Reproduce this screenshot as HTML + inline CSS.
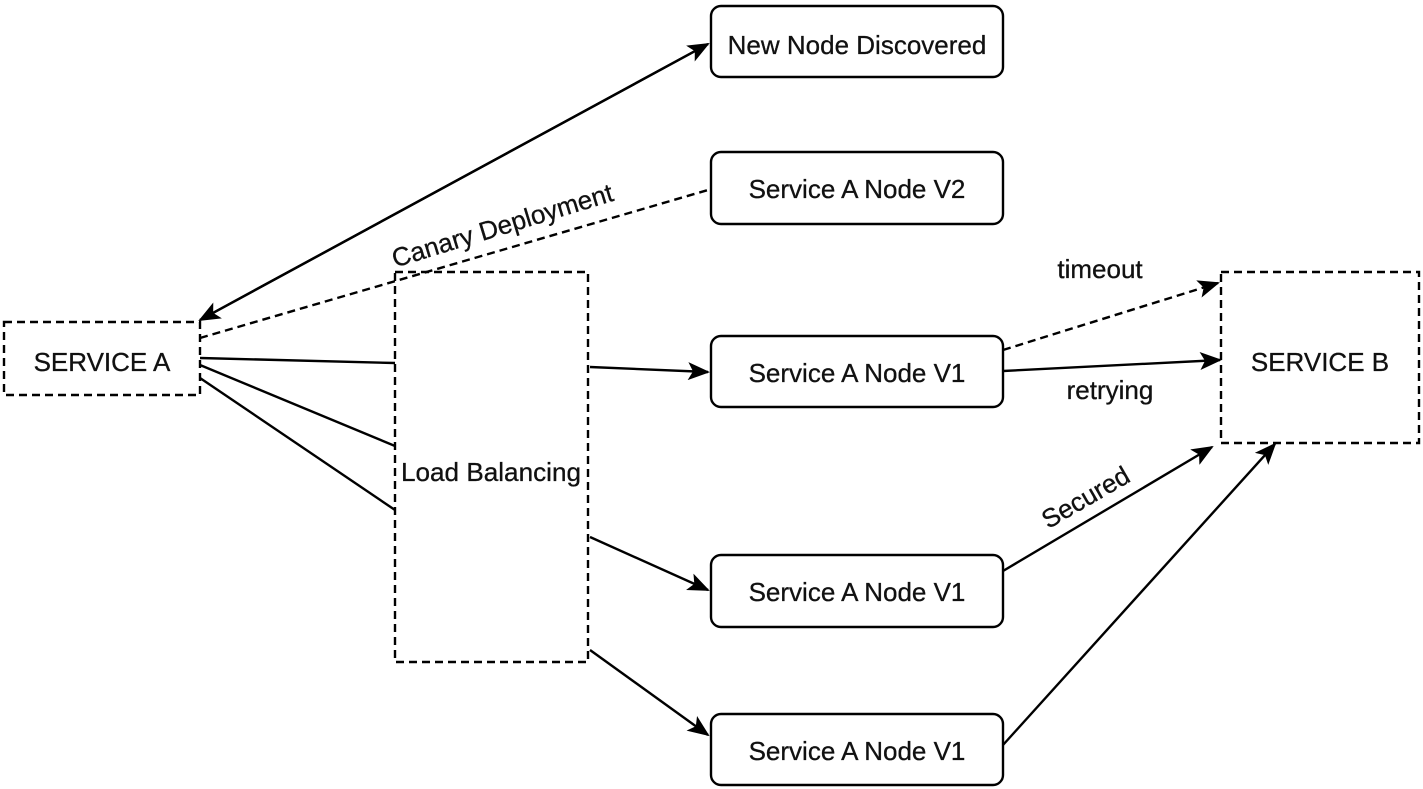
<!DOCTYPE html>
<html><head><style>
body{margin:0;background:#fff}
svg{display:block}
text{font-family:"Liberation Sans",sans-serif;font-size:26px;fill:#111;stroke:#111;stroke-width:0.3}
</style></head><body>
<svg width="1423" height="789" viewBox="0 0 1423 789">
<defs>
<marker id="a" markerWidth="22" markerHeight="18" refX="20" refY="9" orient="auto" markerUnits="userSpaceOnUse" viewBox="0 0 22 18">
<path d="M0,0 L22,9 L0,18 L5,9 z" fill="#000"/></marker>
</defs>
<g stroke="#000" stroke-width="2.4" fill="none">
<rect x="4" y="322" width="196" height="73" stroke-dasharray="8,5"/>
<rect x="395" y="272" width="193" height="390" stroke-dasharray="8,5"/>
<rect x="1221" y="272" width="198" height="171" stroke-dasharray="8,5"/>
<rect x="711" y="6" width="292" height="71" rx="10"/>
<rect x="711" y="152" width="292" height="72" rx="10"/>
<rect x="711" y="336" width="292" height="71" rx="10"/>
<rect x="711" y="555" width="292" height="72" rx="10"/>
<rect x="711" y="714" width="292" height="71" rx="10"/>
<path d="M200,320 L708,44" marker-end="url(#a)"/>
<path d="M708,44 L200,320" marker-end="url(#a)"/>
<line x1="200" y1="338" x2="708" y2="190" stroke-dasharray="8,5"/>
<line x1="200" y1="358" x2="395" y2="363"/>
<line x1="200" y1="365" x2="395" y2="446"/>
<line x1="200" y1="378" x2="395" y2="510"/>
<line x1="590" y1="367" x2="708" y2="372" marker-end="url(#a)"/>
<line x1="590" y1="537" x2="708" y2="590" marker-end="url(#a)"/>
<line x1="590" y1="650" x2="708" y2="735" marker-end="url(#a)"/>
<line x1="1003" y1="350" x2="1218" y2="283" stroke-dasharray="8,5" marker-end="url(#a)"/>
<line x1="1003" y1="371" x2="1220" y2="360" marker-end="url(#a)"/>
<line x1="1003" y1="571" x2="1212" y2="447" marker-end="url(#a)"/>
<line x1="1003" y1="745" x2="1275" y2="444" marker-end="url(#a)"/>
</g>
<text x="102" y="371" text-anchor="middle">SERVICE A</text>
<text x="491" y="481" text-anchor="middle" textLength="180" lengthAdjust="spacingAndGlyphs">Load Balancing</text>
<text x="1320" y="371" text-anchor="middle">SERVICE B</text>
<text x="857" y="54" text-anchor="middle">New Node Discovered</text>
<text x="857" y="198" text-anchor="middle">Service A Node V2</text>
<text x="857" y="382" text-anchor="middle">Service A Node V1</text>
<text x="857" y="601" text-anchor="middle">Service A Node V1</text>
<text x="857" y="760" text-anchor="middle">Service A Node V1</text>
<text x="1100" y="278" text-anchor="middle">timeout</text>
<text x="1110" y="399" text-anchor="middle">retrying</text>
<text x="0" y="0" text-anchor="middle" transform="translate(505,234) rotate(-17)">Canary Deployment</text>
<text x="0" y="0" text-anchor="middle" transform="translate(1090,505) rotate(-30)">Secured</text>
</svg>
</body></html>
